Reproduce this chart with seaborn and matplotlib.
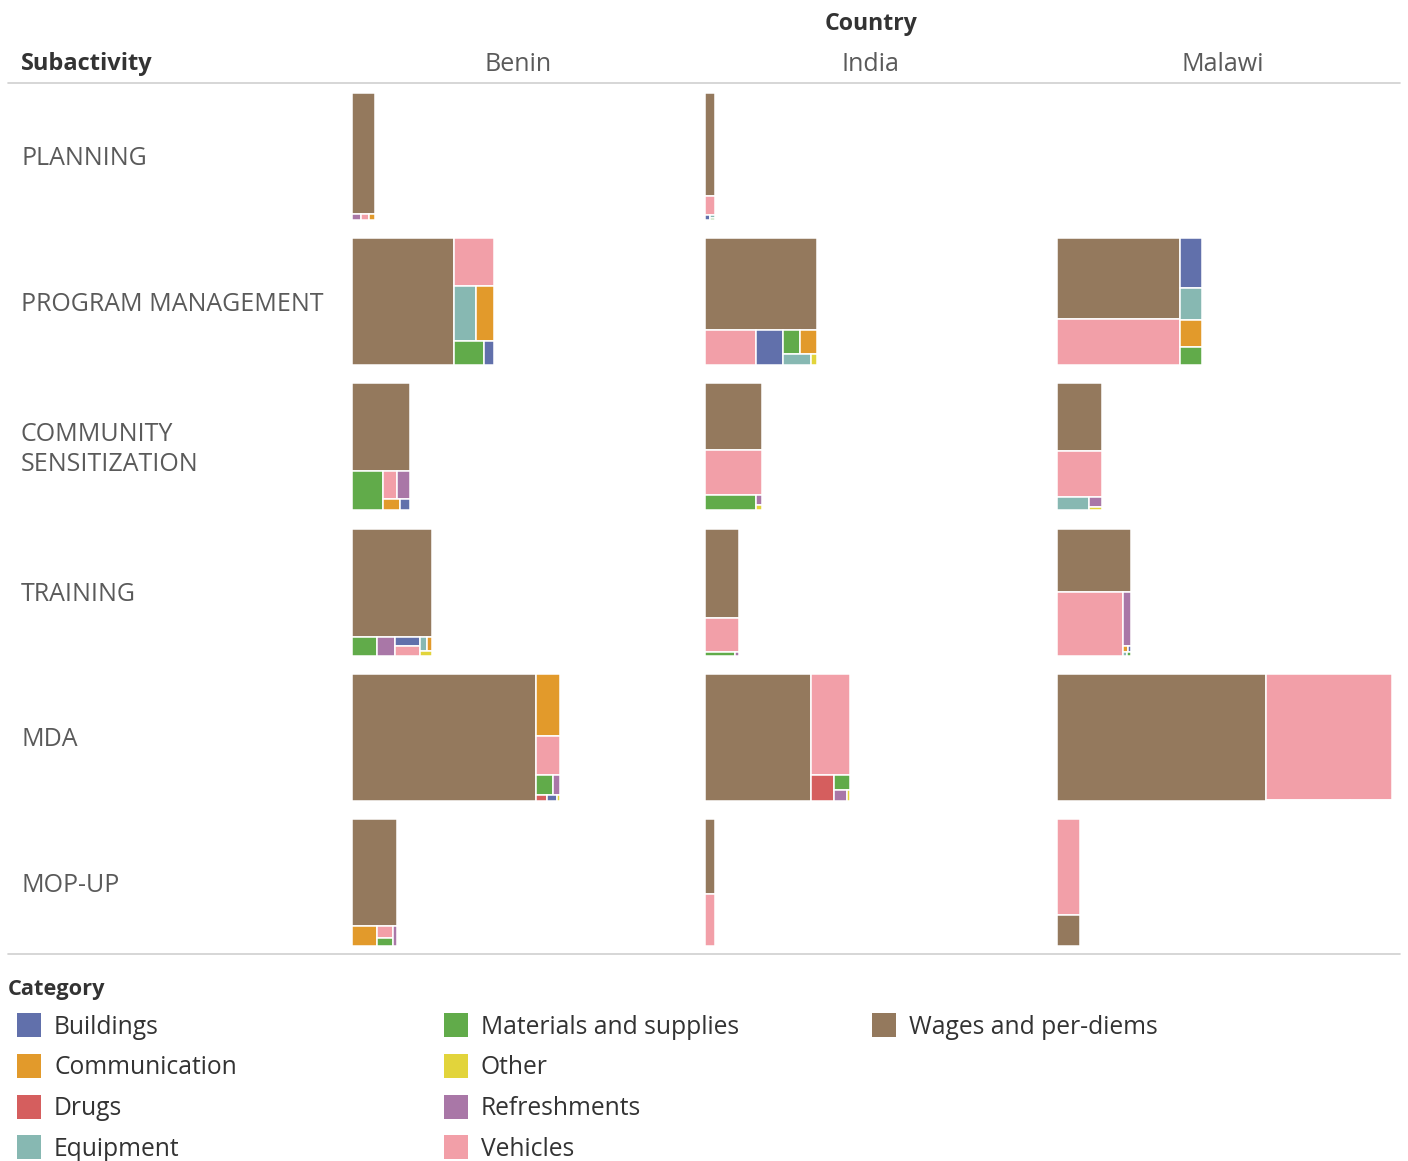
import numpy as np
import pandas as pd
import matplotlib
matplotlib.use("Agg")
import matplotlib.pyplot as plt
from matplotlib.patches import Rectangle
from matplotlib.lines import Line2D
import seaborn as sns

sns.set_theme(style="white")
plt.rcParams["font.family"] = ["Open Sans", "DejaVu Sans"]

countries = ["Benin", "India", "Malawi"]
subactivities = ["PLANNING", "PROGRAM MANAGEMENT", "COMMUNITY\nSENSITIZATION",
                 "TRAINING", "MDA", "MOP-UP"]
categories = ["Buildings", "Communication", "Drugs", "Equipment",
              "Materials and supplies", "Other", "Refreshments", "Vehicles",
              "Wages and per-diems"]
palette = ["#6170ab", "#e29a2b", "#d55e5e", "#87b8b2", "#61ab4a",
           "#e2d43b", "#a977a7", "#f29fa8", "#94795d"]

# cost per subactivity (rows) x country (Benin, India, Malawi)
buildings = [[0, 25, 0], [240, 945, 1080], [110, 0, 0],
             [235, 0, 20], [52, 0, 0], [0, 0, 0]]
communication = [[35, 0, 0], [990, 390, 610], [200, 0, 0],
                 [70, 0, 30], [1540, 0, 0], [500, 0, 0]]
drugs = [[0, 0, 0], [0, 0, 0], [0, 0, 0],
         [0, 0, 0], [60, 580, 0], [0, 0, 0]]
equipment = [[0, 15, 0], [1155, 300, 700], [0, 0, 440],
             [110, 0, 15], [0, 0, 0], [0, 0, 0]]
materials = [[0, 10, 0], [696, 410, 390], [1220, 800, 0],
             [462, 110, 15], [350, 240, 60], [140, 0, 0]]
other = [[0, 0, 0], [0, 60, 0], [0, 30, 40],
         [60, 0, 0], [20, 35, 30], [0, 0, 0]]
refreshments = [[55, 0, 0], [0, 0, 0], [360, 60, 140],
                [348, 15, 430], [150, 140, 0], [80, 0, 0]]
vehicles = [[50, 215, 0], [1870, 1785, 5600], [370, 2520, 2030],
            [227, 1180, 4200], [960, 3880, 15800], [195, 570, 2200]]
wages = [[2760, 1120, 0], [12950, 10300, 9900], [5050, 3800, 3050],
         [8640, 3100, 4700], [23200, 13500, 26400], [4800, 820, 720]]

tables = [buildings, communication, drugs, equipment, materials,
          other, refreshments, vehicles, wages]
records = []
for cat, tab in zip(categories, tables):
    for i, sub in enumerate(subactivities):
        for j, ctry in enumerate(countries):
            records.append((sub, ctry, cat, tab[i][j]))
df = pd.DataFrame(records, columns=["Subactivity", "Country", "Category", "Cost"])
df = df[df.Cost > 0]
color_of = dict(zip(categories, palette))


def squarify(values, x0, y0, x1, y1, ratio=(1 + 5 ** 0.5) / 2):
    # squarified treemap (same rule as d3.treemapSquarify)
    rects = []
    n = len(values)
    value = sum(values)
    i0 = 0
    while i0 < n:
        dx, dy = x1 - x0, y1 - y0
        s = values[i0]
        vmin = vmax = s
        alpha = max(dy / dx, dx / dy) / (value * ratio)
        beta = s * s * alpha
        best = max(vmax / beta, beta / vmin)
        i1 = i0 + 1
        while i1 < n:
            v = values[i1]
            s += v
            vmin, vmax = min(vmin, v), max(vmax, v)
            beta = s * s * alpha
            r = max(vmax / beta, beta / vmin)
            if r > best:
                s -= v
                break
            best = r
            i1 += 1
        row = values[i0:i1]
        if dx < dy:
            h = dy * s / value if value else dy
            x = x0
            for v in row:
                w = dx * v / s
                rects.append((x, y0, w, h))
                x += w
            y0 += h
        else:
            w = dx * s / value if value else dx
            y = y0
            for v in row:
                h = dy * v / s
                rects.append((x0, y, w, h))
                y += h
            x0 += w
        value -= s
        i0 = i1
    return rects


W, H = 1408, 1161
fig = plt.figure(figsize=(W / 100, H / 100), dpi=100)


def fx(x):
    return x / W


def fy(y):
    return 1 - y / H


pane_w_px, pane_h_px = 345, 127
col_pitch, row_pitch = 352.5, 145.2
pane_w = pane_w_px / pane_h_px
totals = df.groupby(["Subactivity", "Country"]).Cost.sum()
scale = 0.97 * pane_w / totals.max()

for i, sub in enumerate(subactivities):
    top = 93 + row_pitch * i
    fig.text(fx(21), fy(top + pane_h_px / 2 + 2.5), sub, ha="left", va="center",
             fontsize=18, color="#5a5a5a", linespacing=1.3)
    for j, ctry in enumerate(countries):
        left = 352 + col_pitch * j
        ax = fig.add_axes([fx(left), fy(top + pane_h_px), pane_w_px / W, pane_h_px / H])
        ax.set_xlim(0, pane_w)
        ax.set_ylim(1, 0)
        ax.axis("off")
        cell = df[(df.Subactivity == sub) & (df.Country == ctry)]
        cell = cell.sort_values("Cost", ascending=False)
        if cell.empty:
            continue
        areas = list(cell.Cost * scale)
        rects = squarify(areas, 0, 0, sum(areas), 1)
        for (x, y, w, h), cat in zip(rects, cell.Category):
            ax.add_patch(Rectangle((x, y), w, h, facecolor=color_of[cat],
                                   edgecolor="white", linewidth=1.1))

# headers
fig.text(fx(871), fy(24), "Country", ha="center", va="center",
         fontsize=16.7, fontweight="bold", color="#333333")
fig.text(fx(21), fy(64), "Subactivity", ha="left", va="center",
         fontsize=17, fontweight="bold", color="#333333")
for j, ctry in enumerate(countries):
    fig.text(fx(342 + col_pitch * j + 176), fy(64.5), ctry, ha="center",
             va="center", fontsize=18, color="#5a5a5a")
for yl in (83, 954):
    fig.add_artist(Line2D([fx(8), fx(1400)], [fy(yl), fy(yl)],
                          color="#cfcfcf", linewidth=1.2))

# legend
fig.text(fx(8), fy(990), "Category", ha="left", va="center",
         fontsize=15.7, fontweight="bold", color="#333333")
leg_x = [17, 444, 872]
for k, cat in enumerate(categories):
    c, r = divmod(k, 4)
    yc = 1025 + 40.8 * r
    fig.add_artist(Rectangle((fx(leg_x[c]), fy(yc + 12)), 24 / W, 24 / H,
                             transform=fig.transFigure,
                             facecolor=color_of[cat], edgecolor="none"))
    fig.text(fx(leg_x[c] + 37), fy(yc + 2), cat, ha="left", va="center",
             fontsize=17.7, color="#333333")

fig.savefig("out.png", dpi=100)
